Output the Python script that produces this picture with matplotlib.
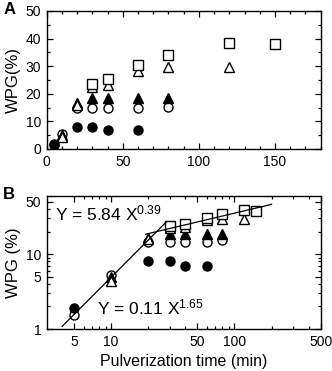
import numpy as np
import matplotlib
matplotlib.use("Agg")
import matplotlib.pyplot as plt
from matplotlib.ticker import MultipleLocator, FixedLocator, NullFormatter

plt.rcParams['font.family'] = ['Liberation Sans', 'DejaVu Sans']
plt.rcParams['mathtext.fontset'] = 'custom'
plt.rcParams['mathtext.rm'] = 'Liberation Sans'
plt.rcParams['mathtext.default'] = 'regular'

# pulverization time (min) and WPG (%) for each series
t_fcirc = [5, 20, 30, 40, 60]
y_fcirc = [1.9, 8.1, 8.1, 7.0, 7.0]

t_ocirc = [5, 10, 20, 30, 40, 60, 80]
y_ocirc = [1.55, 5.3, 14.7, 14.7, 14.7, 14.7, 15.2]

t_ftri = [10, 20, 30, 40, 60, 80]
y_ftri = [5.0, 16.5, 18.5, 18.6, 18.6, 18.6]

t_otri = [10, 20, 30, 40, 60, 80, 120]
y_otri = [4.4, 16.0, 22.5, 23.2, 28.3, 29.6, 29.7]

t_osq = [30, 40, 60, 80, 120, 150]
y_osq = [23.6, 25.3, 30.6, 34.0, 38.3, 38.0]

# power-law fits shown in panel B
fit1_a, fit1_b, fit1_range = 0.11, 1.65, (4, 28)
fit2_a, fit2_b, fit2_range = 5.84, 0.39, (19, 200)

fig = plt.figure(figsize=(3.32, 3.71), dpi=100)
axA = fig.add_axes([0.1407, 0.5984, 0.825, 0.372])
axB = fig.add_axes([0.1407, 0.1132, 0.825, 0.359])

ms = 6.5
def draw_points(ax):
    ax.plot(t_ocirc, y_ocirc, 'o', ms=ms, mfc='white', mec='black', mew=1, ls='none')
    ax.plot(t_ftri, y_ftri, '^', ms=ms, mfc='black', mec='black', mew=1, ls='none')
    ax.plot(t_otri, y_otri, '^', ms=ms, mfc='white', mec='black', mew=1, ls='none')
    ax.plot(t_fcirc, y_fcirc, 'o', ms=ms, mfc='black', mec='black', mew=1, ls='none')
    ax.plot(t_osq, y_osq, 's', ms=ms, mfc='white', mec='black', mew=1, ls='none')

for ax in (axA, axB):
    for s in ax.spines.values():
        s.set_linewidth(1)
    ax.tick_params(which='both', direction='in', top=True, right=True,
                   labelsize=10, width=0.9, pad=4)
    ax.tick_params(which='major', length=4.5)
    ax.tick_params(which='minor', length=2.5)

# panel A
draw_points(axA)
axA.set_xlim(0, 180)
axA.set_ylim(0, 50)
axA.xaxis.set_major_locator(MultipleLocator(50))
axA.xaxis.set_minor_locator(MultipleLocator(10))
axA.yaxis.set_major_locator(MultipleLocator(10))
axA.yaxis.set_minor_locator(MultipleLocator(5))
axA.set_ylabel('WPG(%)', fontsize=12, labelpad=3)

# panel B
draw_points(axB)
xf = np.linspace(*fit1_range, 50)
axB.plot(xf, fit1_a * xf ** fit1_b, color='black', lw=0.9)
xf = np.linspace(*fit2_range, 50)
axB.plot(xf, fit2_a * xf ** fit2_b, color='black', lw=0.9)
axB.set_xscale('log')
axB.set_yscale('log')
axB.set_xlim(3, 500)
axB.set_ylim(1, 60)
axB.xaxis.set_major_locator(FixedLocator([5, 10, 50, 100, 500]))
axB.xaxis.set_minor_locator(FixedLocator([6, 7, 8, 9, 20, 30, 40, 60, 70, 80, 90, 200, 300, 400]))
axB.yaxis.set_major_locator(FixedLocator([1, 5, 10, 50]))
axB.yaxis.set_minor_locator(FixedLocator([2, 3, 4, 6, 7, 8, 9, 20, 30, 40]))
axB.xaxis.set_major_formatter(matplotlib.ticker.FuncFormatter(lambda v, p: '%g' % v))
axB.yaxis.set_major_formatter(matplotlib.ticker.FuncFormatter(lambda v, p: '%g' % v))
axB.xaxis.set_minor_formatter(NullFormatter())
axB.yaxis.set_minor_formatter(NullFormatter())
axB.set_ylabel('WPG (%)', fontsize=12, labelpad=3)
axB.set_xlabel('Pulverization time (min)', fontsize=11.5, labelpad=4)

axB.text(0.03, 0.87, 'Y = %.2f X$^{%.2f}$' % (fit2_a, fit2_b), transform=axB.transAxes,
         fontsize=12.5, va='center', ha='left')
axB.text(0.185, 0.16, 'Y = %.2f X$^{%.2f}$' % (fit1_a, fit1_b), transform=axB.transAxes,
         fontsize=12.5, va='center', ha='left')

fig.text(0.012, 0.995, 'A', fontsize=12, fontweight='bold', va='top', ha='left')
fig.text(0.009, 0.497, 'B', fontsize=12, fontweight='bold', va='top', ha='left')

fig.savefig('out.png', dpi=100)
